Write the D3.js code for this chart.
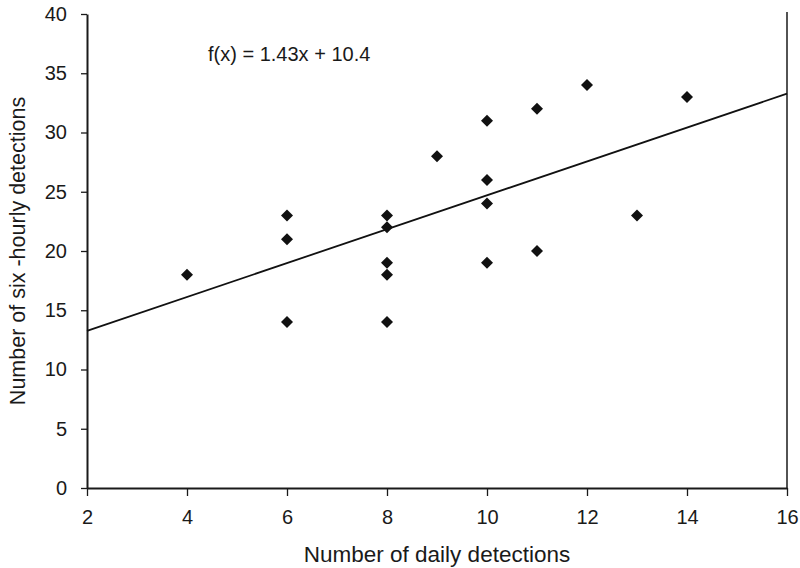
<!DOCTYPE html>
<html>
<head>
<meta charset="utf-8">
<script src="https://cdn.jsdelivr.net/npm/d3@7"></script>
<style>
  body { margin: 0; background: #fff; }
  text { font-family: "Liberation Sans", Arial, sans-serif; fill: #1a1a1a; }
</style>
</head>
<body>
<div id="chart"></div>
<script>
(function () {
    "use strict";

    // daily vs six-hourly detections
    var dailyX = [4, 6, 6, 6, 8, 8, 8, 8, 8, 9, 10, 10, 10, 10, 11, 11, 12, 13, 14];
    var sixHourlyY = [18, 23, 21, 14, 23, 22, 19, 18, 14, 28, 31, 26, 24, 19, 32, 20, 34, 23, 33];
    var xTicks = [2, 4, 6, 8, 10, 12, 14, 16];
    var yTicks = [0, 5, 10, 15, 20, 25, 30, 35, 40];
    var slope = 1.43,
        intercept = 10.4;

    var width = 800,
        height = 568;

    var left = 87, right = 787, top = 14, bottom = 488;

    var x = d3.scaleLinear().domain([2, 16]).range([left, right]);
    var y = d3.scaleLinear().domain([0, 40]).range([bottom, top]);

    var svg = d3.select("#chart").append("svg")
        .attr("width", width)
        .attr("height", height);

    // right edge line
    svg.append("line")
        .attr("x1", right).attr("x2", right)
        .attr("y1", top - 2).attr("y2", bottom)
        .attr("stroke", "#1a1a1a")
        .attr("stroke-width", 1.5);

    var xAxis = svg.append("g")
        .attr("transform", "translate(0," + bottom + ")")
        .call(d3.axisBottom(x).tickValues(xTicks).tickSize(8).tickPadding(14).tickSizeOuter(0));

    var yAxis = svg.append("g")
        .attr("transform", "translate(" + left + ",0)")
        .call(d3.axisLeft(y).tickValues(yTicks).tickSize(6).tickPadding(14).tickSizeOuter(0));

    [xAxis, yAxis].forEach(function (ax) {
        ax.select(".domain").attr("stroke", "#1a1a1a").attr("stroke-width", 2);
        ax.selectAll(".tick line").attr("stroke", "#1a1a1a").attr("stroke-width", 1.3);
        ax.selectAll(".tick text")
            .style("font-family", "'Liberation Sans', Arial, sans-serif")
            .style("font-size", "20px")
            .attr("fill", "#1a1a1a");
    });

    // trend line
    svg.append("line")
        .attr("x1", x(2)).attr("y1", y(slope * 2 + intercept))
        .attr("x2", x(16)).attr("y2", y(slope * 16 + intercept))
        .attr("stroke", "#111")
        .attr("stroke-width", 1.8);

    // points
    var diamond = d3.symbol().type(d3.symbolSquare).size(72);
    svg.selectAll(".pt")
        .data(dailyX.map(function (d, i) { return [d, sixHourlyY[i]]; }))
        .enter().append("path")
        .attr("class", "pt")
        .attr("d", diamond)
        .attr("fill", "#111")
        .attr("transform", function (d) {
            return "translate(" + x(d[0]) + "," + y(d[1]) + ")rotate(45)";
        });

    svg.append("text")
        .attr("x", 208).attr("y", 61)
        .style("font-size", "20px")
        .text("f(x) = 1.43x + 10.4");

    svg.append("text")
        .attr("x", (left + right) / 2).attr("y", 562)
        .attr("text-anchor", "middle")
        .style("font-size", "22.5px")
        .text("Number of daily detections");

    svg.append("text")
        .attr("transform", "translate(25," + (top + bottom) / 2 + ")rotate(-90)")
        .attr("text-anchor", "middle")
        .style("font-size", "21.5px")
        .text("Number of six -hourly detections");
})();
</script>
</body>
</html>
